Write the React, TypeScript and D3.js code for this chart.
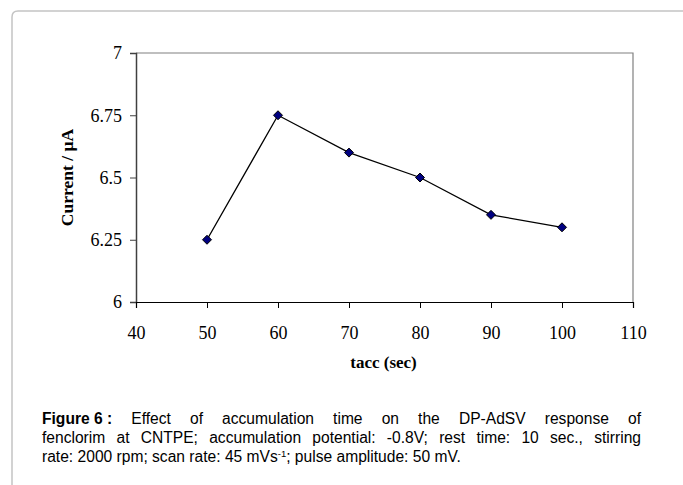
import { useEffect, useRef } from 'react';
import * as d3 from 'd3';

// accumulation time (s) vs peak current (µA)
const tacc = [50, 60, 70, 80, 90, 100];
const current = [6.25, 6.75, 6.6, 6.5, 6.35, 6.3];
const xTicks = [40, 50, 60, 70, 80, 90, 100, 110];
const yTicks = [6, 6.25, 6.5, 6.75, 7];

const captionLines = [
  ['Effect', 'of', 'accumulation', 'time', 'on', 'the', 'DP-AdSV', 'response', 'of'],
  ['fenclorim', 'at', 'CNTPE;', 'accumulation', 'potential:', '-0.8V;', 'rest', 'time:', '10', 'sec.,', 'stirring'],
];
const captionLast = 'rate: 2000 rpm; scan rate: 45 mVs';

const App = () => {
  const ref = useRef<SVGSVGElement>(null);

  useEffect(() => {
    const svg = d3.select(ref.current);
    svg.selectAll('*').remove();

    const width = 683; const height = 485;
    const left = 136; const right = 633; const top = 53; const bottom = 302;
    const serif = '"Liberation Serif", "Times New Roman", serif';
    const sans = '"Liberation Sans", Arial, sans-serif';

    // outer frame, rounded top-left corner
    svg.append('path')
      .attr('d', `M12,${height} L12,17 Q12,11 18,11 L${width + 5},11`)
      .attr('fill', 'none')
      .attr('stroke', '#c4c4c4')
      .attr('stroke-width', 1.5);

    const x = d3.scaleLinear().domain([40, 110]).range([left, right]);
    const y = d3.scaleLinear().domain([6, 7]).range([bottom, top]);

    // plot area frame (top and right)
    svg.append('path')
      .attr('d', `M${left},${top} L${right},${top} L${right},${bottom}`)
      .attr('fill', 'none')
      .attr('stroke', '#808080')
      .attr('stroke-width', 1.2);

    const yAxis = svg.append('g')
      .attr('transform', `translate(${left},0)`)
      .call(d3.axisLeft(y).tickValues(yTicks).tickSize(6).tickFormat(d => String(d)));
    yAxis.select('.domain').attr('stroke', '#404040').attr('stroke-width', 1.5);
    yAxis.selectAll('.tick line').attr('stroke', '#404040');
    yAxis.selectAll('.tick text')
      .attr('x', -14)
      .attr('font-family', serif)
      .attr('font-size', 18)
      .attr('fill', '#000');

    const xAxis = svg.append('g')
      .attr('transform', `translate(0,${bottom})`)
      .call(d3.axisBottom(x).tickValues(xTicks).tickSize(6).tickFormat(d => String(d)));
    xAxis.select('.domain').attr('stroke', '#000').attr('stroke-width', 1.2);
    xAxis.selectAll('.tick text')
      .attr('y', 24)
      .attr('font-family', serif)
      .attr('font-size', 18)
      .attr('fill', '#000');

    const pts = tacc.map((t, i) => [t, current[i]] as [number, number]);
    svg.append('path')
      .datum(pts)
      .attr('fill', 'none')
      .attr('stroke', '#000')
      .attr('stroke-width', 1.3)
      .attr('d', d3.line<[number, number]>().x(d => x(d[0])).y(d => y(d[1])));

    svg.selectAll('.pt')
      .data(pts)
      .enter()
      .append('path')
      .attr('class', 'pt')
      .attr('transform', d => `translate(${x(d[0])},${y(d[1])})`)
      .attr('d', 'M0,-4.5 L4.5,0 L0,4.5 L-4.5,0 Z')
      .attr('fill', '#000080')
      .attr('stroke', '#000')
      .attr('stroke-width', 1);

    svg.append('text')
      .attr('x', (left + right) / 2 - 1)
      .attr('y', 368)
      .attr('text-anchor', 'middle')
      .attr('font-family', serif)
      .attr('font-weight', 'bold')
      .attr('font-size', 17)
      .text('tacc (sec)');

    svg.append('text')
      .attr('transform', `translate(73,${(top + bottom) / 2}) rotate(-90)`)
      .attr('text-anchor', 'middle')
      .attr('font-family', serif)
      .attr('font-weight', 'bold')
      .attr('font-size', 17.5)
      .text('Current / µA');

    // caption, first two lines justified
    const capL = 42; const capR = 641; const fs = 15.6;
    const lineY = [424, 443, 462];
    captionLines.forEach((words, li) => {
      const g = svg.append('g');
      const items: { w: string; bold: boolean }[] = [];
      if (li === 0) items.push({ w: 'Figure 6 :', bold: true });
      words.forEach(w => items.push({ w, bold: false }));
      const nodes = items.map(it => g.append('text')
        .attr('y', lineY[li])
        .attr('font-family', sans)
        .attr('font-size', fs)
        .attr('font-weight', it.bold ? 'bold' : 'normal')
        .attr('fill', '#000')
        .text(it.w));
      const widths = nodes.map(n => (n.node() as SVGTextElement).getComputedTextLength());
      const total = d3.sum(widths);
      const gap = (capR - capL - total) / (nodes.length - 1);
      let cx = capL;
      nodes.forEach((n, i) => {
        n.attr('x', cx);
        cx += widths[i] + gap;
      });
    });
    const last = svg.append('text')
      .attr('x', capL)
      .attr('y', lineY[2])
      .attr('font-family', sans)
      .attr('font-size', fs)
      .attr('fill', '#000');
    last.append('tspan').text(captionLast);
    last.append('tspan').attr('dy', -5).attr('font-size', 9.5).text('-1');
    last.append('tspan').attr('dy', 5).text('; pulse amplitude: 50 mV.');
  }, []);

  return (
    <svg
      ref={ref}
      width={683}
      height={485}
      style={{ position: 'absolute', left: 0, top: 0, background: '#fff' }}
    />
  );
};

export default App;
